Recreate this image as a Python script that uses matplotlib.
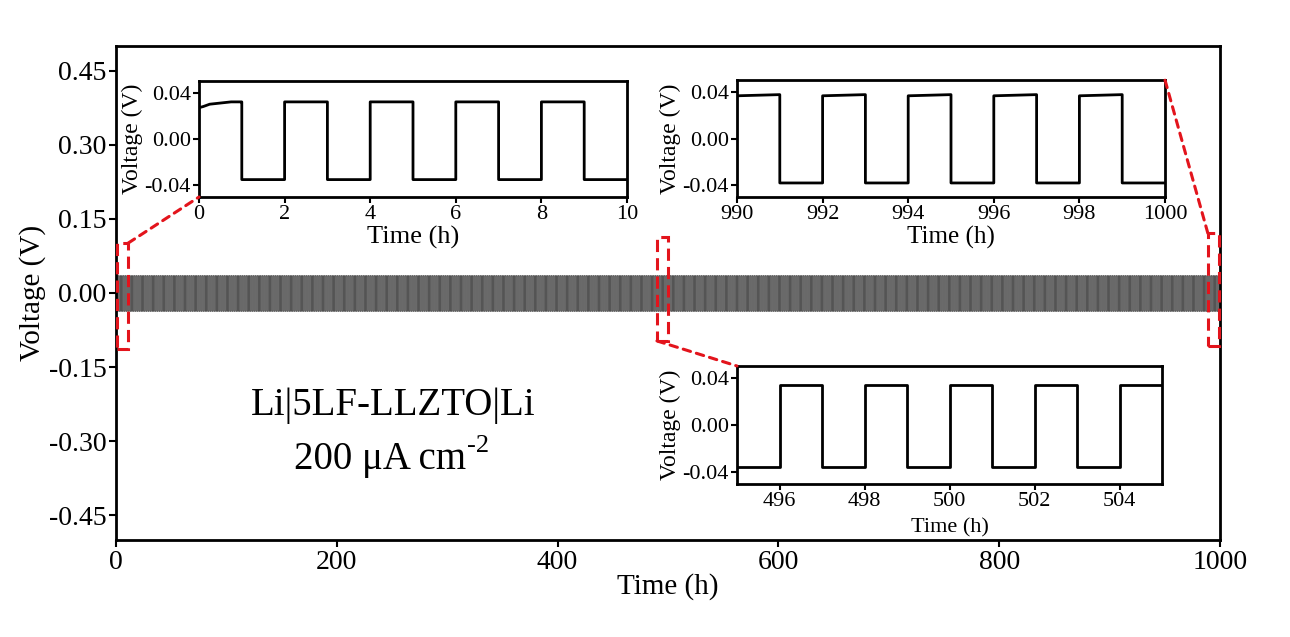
import numpy as np
import matplotlib
matplotlib.use("Agg")
import matplotlib.pyplot as plt
from matplotlib.patches import Rectangle, ConnectionPatch

plt.rcParams['font.family'] = ['Liberation Serif', 'DejaVu Serif']
plt.rcParams['mathtext.fontset'] = 'custom'
plt.rcParams['mathtext.rm'] = 'Liberation Serif'
plt.rcParams['mathtext.default'] = 'rm'

# ---- data ------------------------------------------------------------
# Galvanostatic cycling: 1 h plating / 1 h stripping, 1000 h in total
total_hours = 1000
half_cycle_h = 1.0

# Plateau voltages (V) of the full-length trace
main_pos = 0.035
main_neg = -0.037

# Inset 1: first 10 h (hour-by-hour plateaus; first hour has a rise)
early_t0 = [0.0, 0.1, 0.25, 0.5, 0.75, 0.97]
early_v0 = [0.027, 0.028, 0.030, 0.031, 0.032, 0.032]
early_plateaus = [None, -0.035, 0.032, -0.035, 0.032, -0.035, 0.032, -0.035, 0.032, -0.035]

# Inset 3: 495-505 h
mid_start = 495
mid_plateaus = [-0.036, 0.034, -0.036, 0.034, -0.036, 0.034, -0.036, 0.034, -0.036, 0.034]

# Inset 2: 990-1000 h (positive steps creep up slightly within each hour)
late_start = 990
late_plateaus = [(0.0365, 0.0375), (-0.038, -0.038), (0.0365, 0.0375), (-0.038, -0.038),
                 (0.0365, 0.0375), (-0.038, -0.038), (0.0365, 0.0375), (-0.038, -0.038),
                 (0.0365, 0.0375), (-0.038, -0.038)]

main_xticks = [0, 200, 400, 600, 800, 1000]
main_yticks = [-0.45, -0.30, -0.15, 0.00, 0.15, 0.30, 0.45]
inset_yticks = [-0.04, 0.00, 0.04]


def step_series(start, levels):
    """Square-wave trace: each entry is (v_begin, v_end) held for one half cycle."""
    t, v = [], []
    for i, lv in enumerate(levels):
        a, b = lv if isinstance(lv, tuple) else (lv, lv)
        t0 = start + i * half_cycle_h
        t += [t0, t0 + half_cycle_h]
        v += [a, b]
    return np.array(t), np.array(v)


# full-length trace: alternating plating / stripping steps
n_half = int(total_hours / half_cycle_h)
levels = [main_pos if k % 2 == 0 else main_neg for k in range(n_half)]
main_t, main_v = step_series(0, levels)

# first 10 h
t1b, v1b = step_series(1, early_plateaus[1:])
t1 = np.array(list(early_t0) + [1.0] + list(t1b))
v1 = np.array(list(early_v0) + [0.032] + list(v1b))

t3, v3 = step_series(mid_start, mid_plateaus)
t2, v2 = step_series(late_start, late_plateaus)

# ---- figure ----------------------------------------------------------
W, H = 1290, 637
fig = plt.figure(figsize=(W / 100, H / 100), dpi=100)


def px_axes(x0, y0, x1, y1):
    return fig.add_axes([x0 / W, 1 - y1 / H, (x1 - x0) / W, (y1 - y0) / H])


ax = px_axes(116, 46, 1220, 540)
ax.plot(main_t, main_v, color='#333333', lw=0.6)
ax.set_xlim(0, 1000)
ax.set_ylim(-0.5, 0.5)
ax.set_xticks(main_xticks)
ax.set_yticks(main_yticks)
ax.set_yticklabels([f"{y:.2f}" for y in main_yticks])
ax.tick_params(direction='out', length=5, width=1.5, labelsize=20, pad=2)
ax.tick_params(top=False, right=False)
for s in ax.spines.values():
    s.set_linewidth(2)
ax.set_xlabel('Time (h)', fontsize=21, labelpad=-1)
ax.set_ylabel('Voltage (V)', fontsize=21, labelpad=2)

ax.text(251, -0.227, 'Li|5LF-LLZTO|Li', fontsize=28, ha='center', va='center')
line2 = ax.text(239, -0.338, '200 μA cm', fontsize=28, ha='center', va='center')
ax.annotate('-2', xy=(1, 0.88), xycoords=line2, xytext=(1, 0), textcoords='offset points',
            fontsize=19, ha='left', va='center')


def style_inset(a, xlim, xticks, xlabel_size):
    a.set_xlim(*xlim)
    a.set_ylim(-0.05, 0.05)
    a.set_xticks(xticks)
    a.set_yticks(inset_yticks)
    a.set_yticklabels([f"{y:.2f}" for y in inset_yticks])
    a.tick_params(direction='out', length=4, width=1.5, labelsize=16, pad=2)
    for s in a.spines.values():
        s.set_linewidth(2)
    a.set_xlabel('Time (h)', fontsize=xlabel_size, labelpad=1)
    a.set_ylabel('Voltage (V)', fontsize=17, labelpad=1)


in1 = px_axes(199, 81, 627, 197)
in1.plot(t1, v1, color='black', lw=2)
style_inset(in1, (0, 10), [0, 2, 4, 6, 8, 10], 19)

in2 = px_axes(737, 80, 1165, 197)
in2.plot(t2, v2, color='black', lw=2)
style_inset(in2, (990, 1000), [990, 992, 994, 996, 998, 1000], 18)

in3 = px_axes(737, 366, 1162, 484)
in3.plot(t3, v3, color='black', lw=2)
style_inset(in3, (495, 505), [496, 498, 500, 502, 504], 16)
in3.xaxis.labelpad = 5

# dashed zoom markers
red = '#e3141c'
boxes = [(1, 11, -0.113, 0.101), (490, 500, -0.097, 0.113), (989, 999, -0.107, 0.121)]
for x0, x1, y0, y1 in boxes:
    ax.add_patch(Rectangle((x0, y0), x1 - x0, y1 - y0, fill=False, ec=red,
                           lw=2.2, ls=(0, (4, 2)), clip_on=False, zorder=5))

links = [((11, 0.101), in1, (0, 0)),
         ((490, -0.097), in3, (0, 1)),
         ((989, 0.121), in2, (1, 1))]
for xy, target, frac in links:
    cp = ConnectionPatch(xyA=xy, coordsA=ax.transData, xyB=frac, coordsB=target.transAxes,
                         color=red, lw=2.2, ls=(0, (2.5, 2)), zorder=5)
    fig.add_artist(cp)

fig.savefig('out.png', dpi=100)
